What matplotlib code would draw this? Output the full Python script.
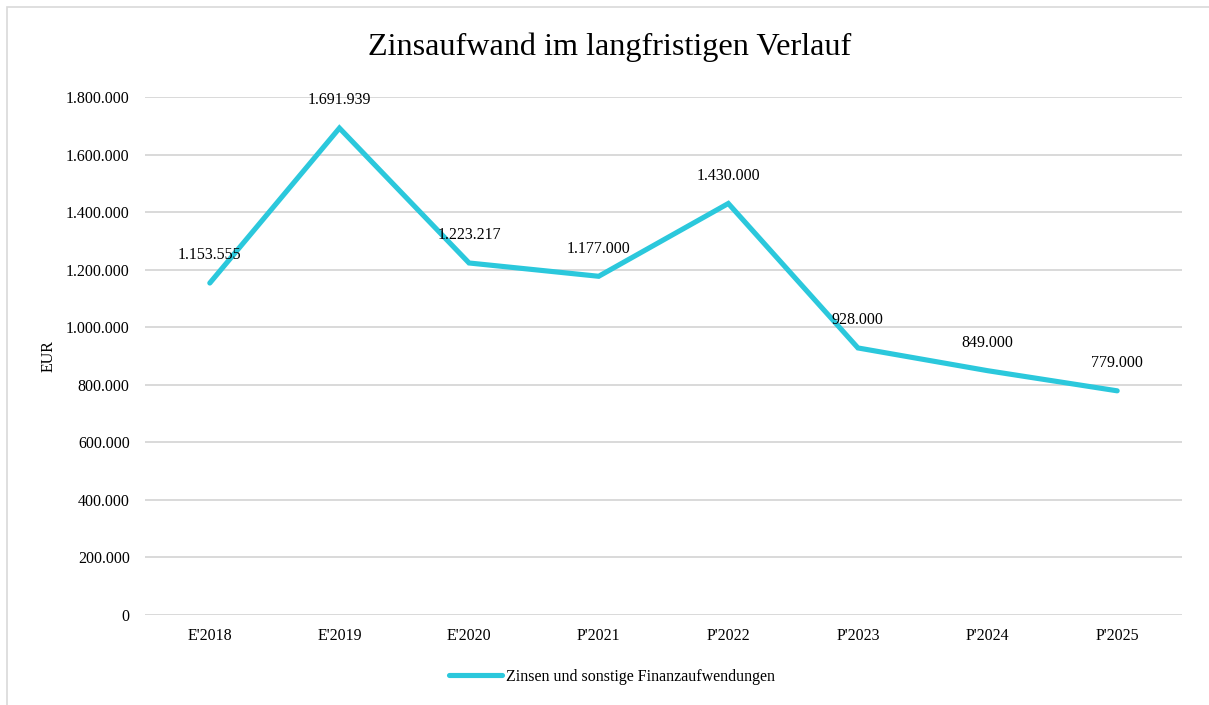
import numpy as np
import matplotlib.pyplot as plt
from matplotlib.patches import Rectangle
from matplotlib.ticker import FuncFormatter

# ==== Data ====
categories = ["E'2018", "E'2019", "E'2020", "P'2021", "P'2022", "P'2023", "P'2024", "P'2025"]
zinsaufwand = [1153555, 1691939, 1223217, 1177000, 1430000, 928000, 849000, 779000]
series_name = "Zinsen und sonstige Finanzaufwendungen"
# ===============

plt.rcParams['font.family'] = ['Liberation Serif', 'DejaVu Serif']

line_color = '#2BC8DC'
grid_color = '#D9D9D9'


def de_fmt(v, pos=None):
    return f"{int(round(v)):,}".replace(",", ".")


fig = plt.figure(figsize=(12.09, 7.05), dpi=100)
fig.patches.append(Rectangle((7 / 1209, -0.01), 1.02, 1 - 7 / 705 + 0.01,
                             transform=fig.transFigure, fill=False,
                             edgecolor=grid_color, linewidth=1.2))

ax = fig.add_axes([145 / 1209, 1 - 615 / 705, 1037 / 1209, 518 / 705])
x = np.arange(len(categories))
ax.plot(x, zinsaufwand, color=line_color, linewidth=3.7,
        solid_capstyle='round', solid_joinstyle='miter', label=series_name, zorder=3)

for xi, yi in zip(x, zinsaufwand):
    ax.annotate(de_fmt(yi), (xi, yi), xytext=(0, 20), textcoords='offset points',
                ha='center', va='center', fontsize=11.5, zorder=4)

ax.set_xlim(-0.5, len(categories) - 0.5)
ax.set_ylim(0, 1800000)
ax.set_yticks(np.arange(0, 1800001, 200000))
ax.yaxis.set_major_formatter(FuncFormatter(de_fmt))
ax.set_xticks(x)
ax.set_xticklabels(categories)
ax.tick_params(axis='both', length=0, labelsize=11.5)
ax.tick_params(axis='y', pad=11)
ax.tick_params(axis='x', pad=9)
ax.grid(axis='y', color=grid_color, linewidth=1.4, zorder=0)
ax.set_axisbelow(True)
for s in ax.spines.values():
    s.set_visible(False)

ax.set_ylabel("EUR", fontsize=11.5)
ax.yaxis.set_label_coords((57 - 145) / 1037, 0.5)
fig.text(610 / 1209, 1 - 47 / 705, "Zinsaufwand im langfristigen Verlauf",
         ha='center', va='center', fontsize=23.2)

ax.legend(loc='center', bbox_to_anchor=((612 - 145) / 1037, (615 - 677) / 518),
          frameon=False, fontsize=11.5, handlelength=3.3, handletextpad=0.25)

fig.savefig("out.png", dpi=100)
